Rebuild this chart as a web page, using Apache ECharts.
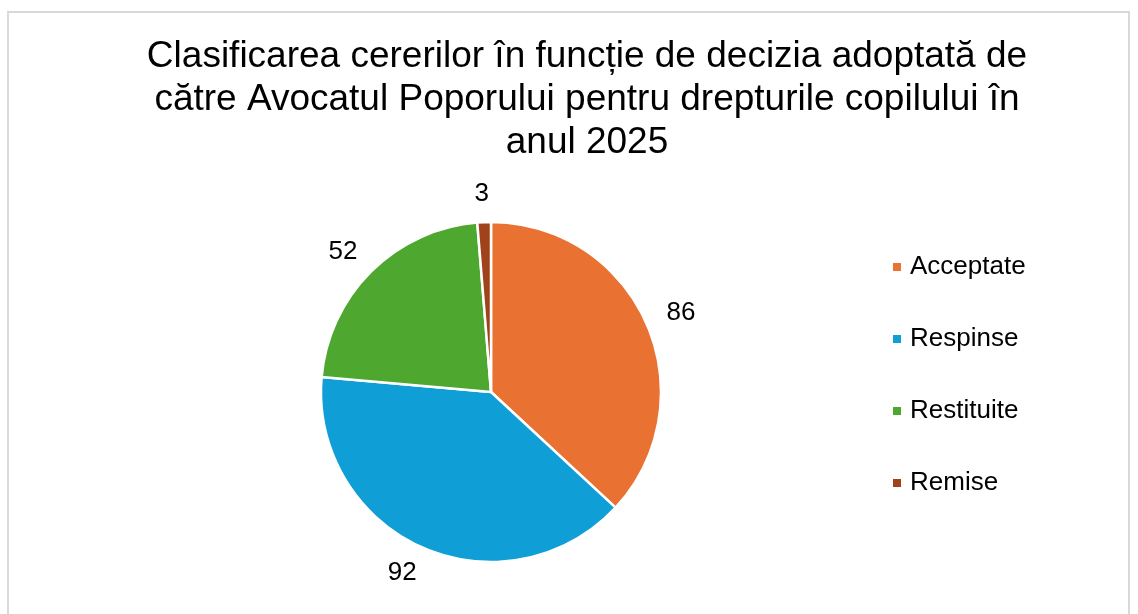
<!DOCTYPE html>
<html>
<head>
<meta charset="utf-8">
<script src="https://cdn.jsdelivr.net/npm/echarts@6/dist/echarts.min.js"></script>
<style>
  html, body { margin: 0; padding: 0; background: #fff; }
  #frame {
    position: absolute; left: 7px; top: 11px;
    width: 1123px; height: 620px;
    border: 2px solid #d9d9d9; box-sizing: border-box;
  }
  #chart { position: absolute; left: 0; top: 0; width: 1138px; height: 614px; }
</style>
</head>
<body>
<div id="frame"></div>
<div id="chart"></div>
<script>
// date din grafic
const categories = ['Acceptate', 'Respinse', 'Restituite', 'Remise'];
const values = [86, 92, 52, 3];
const colors = ['#E97132', '#0F9ED5', '#4EA72E', '#A0431A'];

const chart = echarts.init(document.getElementById('chart'));

const option = {
  animation: false,
  title: {
    text: 'Clasificarea cererilor în funcție de decizia adoptată de\ncătre Avocatul Poporului pentru drepturile copilului în\nanul 2025',
    left: 582,
    textAlign: 'center',
    top: 30,
    textStyle: {
      fontFamily: 'Liberation Sans, Arial, sans-serif',
      fontSize: 37,
      fontWeight: 'normal',
      color: '#000',
      lineHeight: 43
    }
  },
  legend: {
    orient: 'vertical',
    left: 886,
    top: 249,
    itemWidth: 10,
    itemHeight: 10,
    itemGap: 46,
    icon: 'rect',
    textStyle: {
      fontFamily: 'Liberation Sans, Arial, sans-serif',
      fontSize: 26,
      color: '#000',
      padding: [0, 0, 0, 3]
    },
    data: categories
  },
  series: [{
    type: 'pie',
    center: [491, 392],
    radius: 170,
    startAngle: 90,
    clockwise: true,
    itemStyle: { borderColor: '#fff', borderWidth: 2.5 },
    label: {
      show: true,
      position: 'outside',
      formatter: '{c}',
      fontFamily: 'Liberation Sans, Arial, sans-serif',
      fontSize: 26,
      color: '#000',
      distanceToLabelLine: -6
    },
    labelLine: { show: false, length: 28, length2: 0 },
    emphasis: { disabled: true },
    data: categories.map((name, i) => ({
      name: name,
      value: values[i],
      itemStyle: { color: colors[i] }
    }))
  }]
};

chart.setOption(option);
</script>
</body>
</html>
